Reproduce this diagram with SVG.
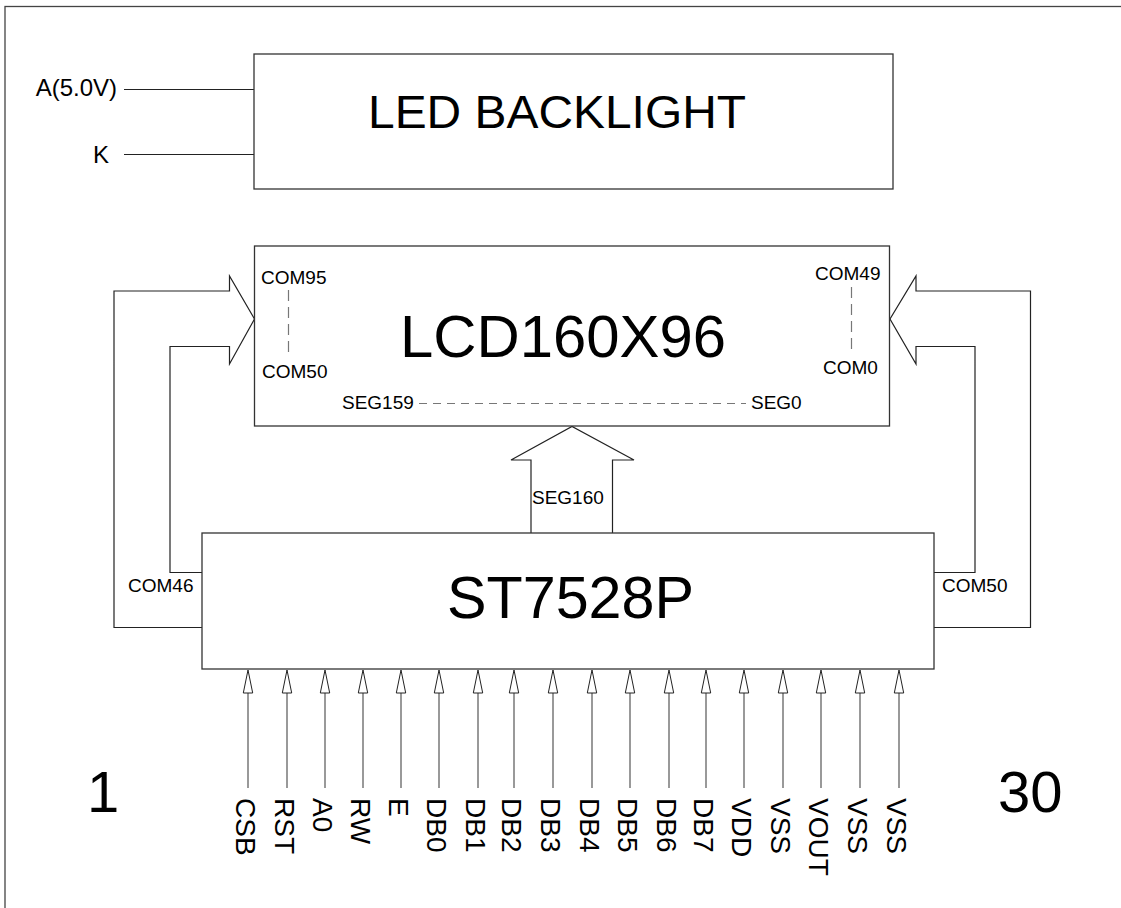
<svg xmlns="http://www.w3.org/2000/svg" width="1121" height="908" viewBox="0 0 1121 908">
<style>
.box{fill:#fff;stroke:#333;stroke-width:1.3}
.ln{fill:none;stroke:#222;stroke-width:1.2}
.pin{fill:none;stroke:#555;stroke-width:1.2}
.head{fill:#fff;stroke:#222;stroke-width:1}
.dash{fill:none;stroke:#777;stroke-width:1.2}
.t{font-family:"Liberation Sans",Arial,sans-serif;fill:#000}
.s{font-size:19px}
.p{font-size:28px}
</style>
<defs>
<path id="ph" class="head" d="M0,0 L-4.7,23 L4.7,23 Z"/>
</defs>
<rect x="5" y="6.5" width="1130" height="910" fill="none" stroke="#444" stroke-width="1.3"/>

<g id="connectors">
<line class="ln" x1="124" y1="89.5" x2="254" y2="89.5"/>
<line class="ln" x1="124" y1="154.5" x2="254" y2="154.5"/>
<path class="ln" d="M202,627.5 H114 V291 H229.5 V276 L254.5,319 L229.5,364 V346.5 H170 V572.5 H202"/>
<path class="ln" d="M934,627.5 H1030.5 V291 H916 V276 L890,319 L916,364 V346.5 H975 V572.5 H934"/>
<path class="ln" d="M531,533 V460 H511 L572,426.5 L634,460 H612.5 V533"/>
<g id="pins">
<g transform="translate(248,670)"><line class="pin" x1="0" y1="23" x2="0" y2="118"/><use href="#ph"/></g>
<g transform="translate(287,670)"><line class="pin" x1="0" y1="23" x2="0" y2="118"/><use href="#ph"/></g>
<g transform="translate(325,670)"><line class="pin" x1="0" y1="23" x2="0" y2="118"/><use href="#ph"/></g>
<g transform="translate(363,670)"><line class="pin" x1="0" y1="23" x2="0" y2="118"/><use href="#ph"/></g>
<g transform="translate(401,670)"><line class="pin" x1="0" y1="23" x2="0" y2="118"/><use href="#ph"/></g>
<g transform="translate(439,670)"><line class="pin" x1="0" y1="23" x2="0" y2="118"/><use href="#ph"/></g>
<g transform="translate(478,670)"><line class="pin" x1="0" y1="23" x2="0" y2="118"/><use href="#ph"/></g>
<g transform="translate(514,670)"><line class="pin" x1="0" y1="23" x2="0" y2="118"/><use href="#ph"/></g>
<g transform="translate(553,670)"><line class="pin" x1="0" y1="23" x2="0" y2="118"/><use href="#ph"/></g>
<g transform="translate(592,670)"><line class="pin" x1="0" y1="23" x2="0" y2="118"/><use href="#ph"/></g>
<g transform="translate(630,670)"><line class="pin" x1="0" y1="23" x2="0" y2="118"/><use href="#ph"/></g>
<g transform="translate(669,670)"><line class="pin" x1="0" y1="23" x2="0" y2="118"/><use href="#ph"/></g>
<g transform="translate(706,670)"><line class="pin" x1="0" y1="23" x2="0" y2="118"/><use href="#ph"/></g>
<g transform="translate(744,670)"><line class="pin" x1="0" y1="23" x2="0" y2="118"/><use href="#ph"/></g>
<g transform="translate(783,670)"><line class="pin" x1="0" y1="23" x2="0" y2="118"/><use href="#ph"/></g>
<g transform="translate(821,670)"><line class="pin" x1="0" y1="23" x2="0" y2="118"/><use href="#ph"/></g>
<g transform="translate(860,670)"><line class="pin" x1="0" y1="23" x2="0" y2="118"/><use href="#ph"/></g>
<g transform="translate(899,670)"><line class="pin" x1="0" y1="23" x2="0" y2="118"/><use href="#ph"/></g>
</g>
</g>

<g id="backlight">
<rect class="box" x="254" y="54" width="639" height="135"/>
<text class="t" x="368" y="128" font-size="46" textLength="378" lengthAdjust="spacingAndGlyphs">LED BACKLIGHT</text>
<text class="t" x="117" y="96" font-size="24" text-anchor="end">A(5.0V)</text>
<text class="t" x="109" y="163" font-size="24" text-anchor="end">K</text>
</g>

<g id="lcd">
<rect class="box" x="254.5" y="246" width="635" height="180"/>
<text class="t" x="400" y="357" font-size="60" textLength="326" lengthAdjust="spacingAndGlyphs">LCD160X96</text>
<text class="t s" x="261" y="284">COM95</text>
<line class="dash" x1="288.5" y1="290" x2="288.5" y2="357" stroke-dasharray="11,6"/>
<text class="t s" x="262" y="378">COM50</text>
<text class="t s" x="815" y="280">COM49</text>
<line class="dash" x1="851.5" y1="287" x2="851.5" y2="353" stroke-dasharray="11,6"/>
<text class="t s" x="823" y="374">COM0</text>
<text class="t s" x="342" y="409">SEG159</text>
<line class="dash" x1="419" y1="403.5" x2="746" y2="403.5" stroke-dasharray="8,6"/>
<text class="t s" x="751" y="409">SEG0</text>
</g>

<g id="driver">
<rect class="box" x="202" y="533" width="732" height="136"/>
<text class="t" x="447" y="618" font-size="60" textLength="247" lengthAdjust="spacingAndGlyphs">ST7528P</text>
<text class="t s" x="532" y="504">SEG160</text>
<text class="t s" x="128" y="592">COM46</text>
<text class="t s" x="942" y="592">COM50</text>
</g>

<g id="pin-labels" class="t p">
<text transform="translate(236,798) rotate(90)">CSB</text>
<text transform="translate(275,798) rotate(90)">RST</text>
<text transform="translate(313,798) rotate(90)">A0</text>
<text transform="translate(351,798) rotate(90)">RW</text>
<text transform="translate(389,798) rotate(90)">E</text>
<text transform="translate(427,798) rotate(90)">DB0</text>
<text transform="translate(466,798) rotate(90)">DB1</text>
<text transform="translate(502,798) rotate(90)">DB2</text>
<text transform="translate(541,798) rotate(90)">DB3</text>
<text transform="translate(580,798) rotate(90)">DB4</text>
<text transform="translate(618,798) rotate(90)">DB5</text>
<text transform="translate(657,798) rotate(90)">DB6</text>
<text transform="translate(694,798) rotate(90)">DB7</text>
<text transform="translate(732,798) rotate(90)">VDD</text>
<text transform="translate(771,798) rotate(90)">VSS</text>
<text transform="translate(809,798) rotate(90)">VOUT</text>
<text transform="translate(848,798) rotate(90)">VSS</text>
<text transform="translate(887,798) rotate(90)">VSS</text>
</g>

<g id="pin-numbers">
<text class="t" x="87" y="812" font-size="58">1</text>
<text class="t" x="998" y="812" font-size="58">30</text>
</g>
</svg>
